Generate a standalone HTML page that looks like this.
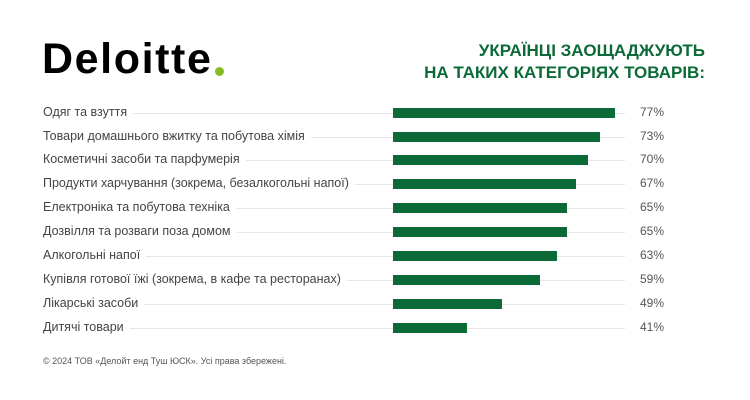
<!DOCTYPE html>
<html><head><meta charset="utf-8"><style>
body{margin:0;width:750px;height:400px;background:#fff;position:relative;overflow:hidden;font-family:"Liberation Sans",sans-serif}
.logo{position:absolute;left:42px;top:36px;font-size:43px;font-weight:bold;color:#000;line-height:46px;letter-spacing:1.6px}
.dot{position:absolute;left:215px;top:67px;width:9px;height:9px;border-radius:50%;background:#86bc25}
.title{position:absolute;right:45px;top:40px;text-align:right;color:#0b6a37;font-size:17px;font-weight:bold;line-height:22px}
.row{position:absolute;left:0;width:750px;height:24px}
.lab{position:absolute;left:43px;top:4px;font-size:12.5px;color:#444;background:#fff;padding-right:6px;z-index:2;white-space:nowrap}
.line{position:absolute;left:43px;width:582px;top:12px;height:1px;background:#e6e6e6}
.bar{position:absolute;left:393px;top:7px;height:10px;background:#0b6a37;z-index:2}
.pct{position:absolute;right:86px;top:4px;font-size:12px;color:#555}
.foot{position:absolute;left:43px;top:356px;font-size:9px;color:#555}
</style></head><body>
<div class="logo">Deloitte</div><div class="dot"></div>
<div class="title">УКРАЇНЦІ ЗАОЩАДЖУЮТЬ<br>НА ТАКИХ КАТЕГОРІЯХ ТОВАРІВ:</div>

<div class="row" style="top:101px"><div class="line"></div><span class="lab">Одяг та взуття</span><div class="bar" style="width:222px"></div><span class="pct">77%</span></div>
<div class="row" style="top:125px"><div class="line"></div><span class="lab">Товари домашнього вжитку та побутова хімія</span><div class="bar" style="width:207px"></div><span class="pct">73%</span></div>
<div class="row" style="top:148px"><div class="line"></div><span class="lab">Косметичні засоби та парфумерія</span><div class="bar" style="width:195px"></div><span class="pct">70%</span></div>
<div class="row" style="top:172px"><div class="line"></div><span class="lab">Продукти харчування (зокрема, безалкогольні напої)</span><div class="bar" style="width:183px"></div><span class="pct">67%</span></div>
<div class="row" style="top:196px"><div class="line"></div><span class="lab">Електроніка та побутова техніка</span><div class="bar" style="width:174px"></div><span class="pct">65%</span></div>
<div class="row" style="top:220px"><div class="line"></div><span class="lab">Дозвілля та розваги поза домом</span><div class="bar" style="width:174px"></div><span class="pct">65%</span></div>
<div class="row" style="top:244px"><div class="line"></div><span class="lab">Алкогольні напої</span><div class="bar" style="width:164px"></div><span class="pct">63%</span></div>
<div class="row" style="top:268px"><div class="line"></div><span class="lab">Купівля готової їжі (зокрема, в кафе та ресторанах)</span><div class="bar" style="width:147px"></div><span class="pct">59%</span></div>
<div class="row" style="top:292px"><div class="line"></div><span class="lab">Лікарські засоби</span><div class="bar" style="width:109px"></div><span class="pct">49%</span></div>
<div class="row" style="top:316px"><div class="line"></div><span class="lab">Дитячі товари</span><div class="bar" style="width:74px"></div><span class="pct">41%</span></div>

<div class="foot">© 2024 ТОВ «Делойт енд Туш ЮСК». Усі права збережені.</div>
</body></html>
